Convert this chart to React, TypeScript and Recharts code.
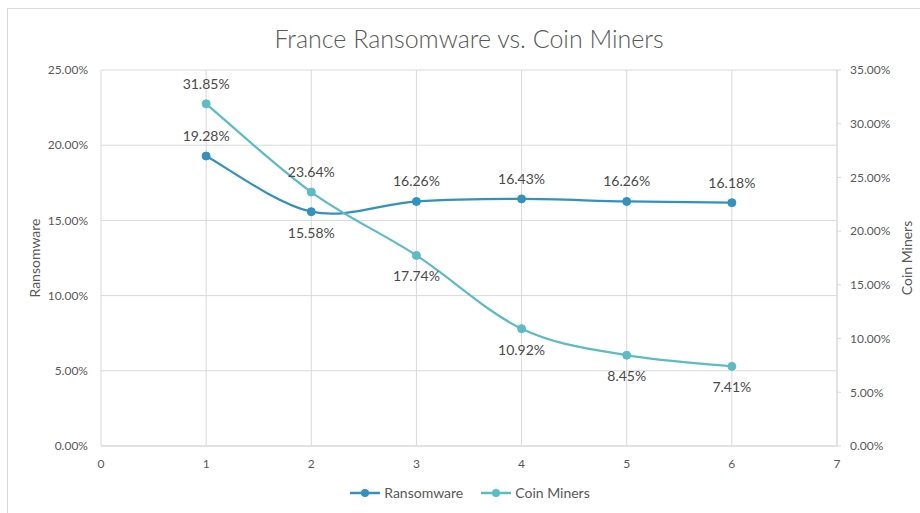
import { CartesianGrid, Line, LineChart, XAxis, YAxis } from 'recharts'

const POSITIONS = [1, 2, 3, 4, 5, 6]
const RANSOMWARE = [19.28, 15.58, 16.26, 16.43, 16.26, 16.18]
const COIN_MINERS = [31.85, 23.64, 17.74, 10.92, 8.45, 7.41]
const RANSOM_LABEL_BELOW = [false, true, false, false, false, false]
const COIN_LABEL_BELOW = [false, false, true, true, true, true]
const X_TICKS = [0, 1, 2, 3, 4, 5, 6, 7]
const LEFT_TICKS = [0, 5, 10, 15, 20, 25]
const RIGHT_TICKS = [0, 5, 10, 15, 20, 25, 30, 35]

const FONT = 'Lato, "Open Sans", sans-serif'
const RANSOM_COLOR = '#3292bf'
const COIN_COLOR = '#5cbcc5'
const GRID = '#d9d9d9'
const TICK_TEXT = '#595959'

const data = POSITIONS.map((x, i) => ({
  x,
  ransomware: RANSOMWARE[i],
  coin: COIN_MINERS[i],
}))

const pct = (v: number) => `${v.toFixed(2)}%`

// excel-style smoothed line (catmull-rom as cubic beziers)
function excelSmooth(context: any) {
  let pts: number[][] = []
  return {
    areaStart() {},
    areaEnd() {},
    lineStart() {
      pts = []
    },
    point(x: number, y: number) {
      pts.push([+x, +y])
    },
    lineEnd() {
      if (!pts.length) return
      context.moveTo(pts[0][0], pts[0][1])
      for (let i = 0; i < pts.length - 1; i++) {
        const p0 = pts[i - 1] || pts[i]
        const p1 = pts[i]
        const p2 = pts[i + 1]
        const p3 = pts[i + 2] || pts[i + 1]
        context.bezierCurveTo(
          p1[0] + (p2[0] - p0[0]) / 6,
          p1[1] + (p2[1] - p0[1]) / 6,
          p2[0] - (p3[0] - p1[0]) / 6,
          p2[1] - (p3[1] - p1[1]) / 6,
          p2[0],
          p2[1],
        )
      }
    },
  }
}

function makeLabel(below: boolean[]) {
  return (props: any) => {
    const { x, y, value, index } = props
    const dy = below[index] ? 26 : -15
    return (
      <text
        key={`lbl-${index}`}
        x={x}
        y={y + dy}
        textAnchor="middle"
        fontSize={14}
        fontFamily={FONT}
        fill="#4a4a4a"
      >
        {pct(value)}
      </text>
    )
  }
}

function LegendItem({ color, label }: { color: string; label: string }) {
  return (
    <div style={{ display: 'flex', alignItems: 'center', gap: 4 }}>
      <svg width={30} height={10}>
        <line x1={0} y1={5} x2={30} y2={5} stroke={color} strokeWidth={2.5} />
        <circle cx={15} cy={5} r={4} fill={color} />
      </svg>
      <span>{label}</span>
    </div>
  )
}

export default function App() {
  return (
    <div
      style={{
        position: 'absolute',
        left: 0,
        top: 0,
        width: 920,
        height: 513,
        overflow: 'hidden',
        background: '#fff',
        fontFamily: FONT,
      }}
    >
      <div
        style={{
          position: 'absolute',
          left: 7,
          top: 8,
          width: 940,
          height: 540,
          border: `1px solid ${GRID}`,
        }}
      />
      <div
        style={{
          position: 'absolute',
          left: 101,
          width: 736,
          top: 22,
          textAlign: 'center',
          fontSize: 25,
          fontWeight: 300,
          lineHeight: '32px',
          color: TICK_TEXT,
        }}
      >
        France Ransomware vs. Coin Miners
      </div>

      <div style={{ position: 'absolute', left: 0, top: 0 }}>
        <LineChart
          width={920}
          height={513}
          data={data}
          margin={{ top: 70, right: 0, bottom: 0, left: 0 }}
        >
          <CartesianGrid yAxisId="left" stroke={GRID} strokeWidth={1} />
          <XAxis
            dataKey="x"
            type="number"
            domain={[0, 7]}
            ticks={X_TICKS}
            height={67}
            axisLine={{ stroke: GRID }}
            tickLine={false}
            tickSize={0}
            tickMargin={13}
            tick={{ fontSize: 12, fill: TICK_TEXT, fontFamily: FONT }}
          />
          <YAxis
            yAxisId="left"
            domain={[0, 25]}
            ticks={LEFT_TICKS}
            width={101}
            axisLine={false}
            tickLine={false}
            tickSize={0}
            tickMargin={13}
            tickFormatter={pct}
            tick={{ fontSize: 12, fill: TICK_TEXT, fontFamily: FONT }}
            label={{
              value: 'Ransomware',
              angle: -90,
              position: 'center',
              dx: -15,
              fontSize: 14,
              fill: TICK_TEXT,
              fontFamily: FONT,
            }}
          />
          <YAxis
            yAxisId="right"
            orientation="right"
            domain={[0, 35]}
            ticks={RIGHT_TICKS}
            width={83}
            axisLine={{ stroke: GRID }}
            tickLine={{ stroke: GRID }}
            tickSize={4}
            tickMargin={9}
            tickFormatter={pct}
            tick={{ fontSize: 12, fill: TICK_TEXT, fontFamily: FONT }}
            label={{
              value: 'Coin Miners',
              angle: -90,
              position: 'center',
              dx: 29,
              fontSize: 14,
              fill: TICK_TEXT,
              fontFamily: FONT,
            }}
          />
          <Line
            yAxisId="left"
            dataKey="ransomware"
            type={excelSmooth as any}
            stroke={RANSOM_COLOR}
            strokeWidth={2.25}
            dot={{ r: 4, fill: RANSOM_COLOR, stroke: RANSOM_COLOR, strokeWidth: 1 }}
            activeDot={false}
            label={makeLabel(RANSOM_LABEL_BELOW)}
            isAnimationActive={false}
          />
          <Line
            yAxisId="right"
            dataKey="coin"
            type={excelSmooth as any}
            stroke={COIN_COLOR}
            strokeWidth={2.25}
            dot={{ r: 4, fill: COIN_COLOR, stroke: COIN_COLOR, strokeWidth: 1 }}
            activeDot={false}
            label={makeLabel(COIN_LABEL_BELOW)}
            isAnimationActive={false}
          />
        </LineChart>
      </div>

      <div
        style={{
          position: 'absolute',
          left: 0,
          width: 940,
          top: 484,
          display: 'flex',
          justifyContent: 'center',
          gap: 18,
          fontSize: 14,
          color: TICK_TEXT,
          lineHeight: '18px',
        }}
      >
        <LegendItem color={RANSOM_COLOR} label="Ransomware" />
        <LegendItem color={COIN_COLOR} label="Coin Miners" />
      </div>
    </div>
  )
}
